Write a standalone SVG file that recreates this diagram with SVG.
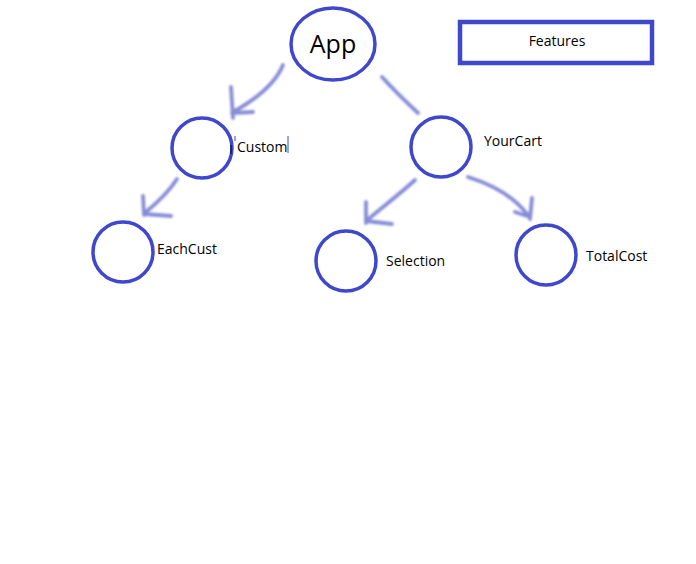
<svg xmlns="http://www.w3.org/2000/svg" width="696" height="564" viewBox="0 0 696 564">
<defs>
<style>
.node{fill:#fff;stroke:#3f48cc;stroke-width:3.5}
.lbl{font-family:"Open Sans","Noto Sans",sans-serif;font-size:14px;fill:#000}
.pen{fill:none;stroke:#4750c2;stroke-width:3.8;stroke-linecap:round;stroke-linejoin:round;opacity:0.65;filter:url(#blur)}
</style>
<filter id="blur" x="-20%" y="-20%" width="140%" height="140%"><feGaussianBlur stdDeviation="0.8"/></filter>
</defs>
<rect width="696" height="564" fill="#fff"/>
<g id="connectors">
<path class="pen" d="M283,65 C276,82 260,97 233,112 M231,87 L233,118 M232,113 L253,112"/>
<path class="pen" d="M382,77 C392,88 404,100 418,113"/>
<path class="pen" d="M177,179 C170,190 158,202 146,212 M143,196 L144,215 M144,214 L171,216"/>
<path class="pen" d="M415,180 C402,192 384,206 366,221 M366,202 L366,223 M366,221 L392,224"/>
<path class="pen" d="M468,177 C490,184 512,194 527,214 M532,198 L530,219 M515,212 L530,217"/>
</g>
<g id="App">
<ellipse class="node" cx="333" cy="44" rx="42" ry="36" stroke-width="5"/>
<text x="333" y="53" text-anchor="middle" font-family="Open Sans,Noto Sans,sans-serif" font-size="25">App</text>
</g>
<g id="Features">
<rect x="460" y="22" width="192" height="41" fill="#fff" stroke="#3f48cc" stroke-width="4.5"/>
<text class="lbl" x="557" y="46" text-anchor="middle">Features</text>
</g>
<g id="Customer">
<circle class="node" cx="202" cy="148" r="30"/>
<text class="lbl" x="237" y="152">Custom</text>
<line x1="231" y1="145" x2="231" y2="154" stroke="#000" stroke-width="1"/>
<line x1="235" y1="136" x2="235" y2="141" stroke="#3f48cc" stroke-width="1"/>
<line x1="288" y1="136" x2="288" y2="153" stroke="#3f48cc" stroke-width="1"/>
</g>
<g id="EachCust">
<circle class="node" cx="123" cy="252" r="30"/>
<text class="lbl" x="157" y="254">EachCust</text>
</g>
<g id="YourCart">
<circle class="node" cx="441" cy="147" r="30"/>
<text class="lbl" x="484" y="146">YourCart</text>
</g>
<g id="Selection">
<circle class="node" cx="346" cy="261" r="30"/>
<text class="lbl" x="386" y="266">Selection</text>
</g>
<g id="TotalCost">
<circle class="node" cx="546" cy="255" r="30"/>
<text class="lbl" x="586" y="261">TotalCost</text>
</g>
</svg>
